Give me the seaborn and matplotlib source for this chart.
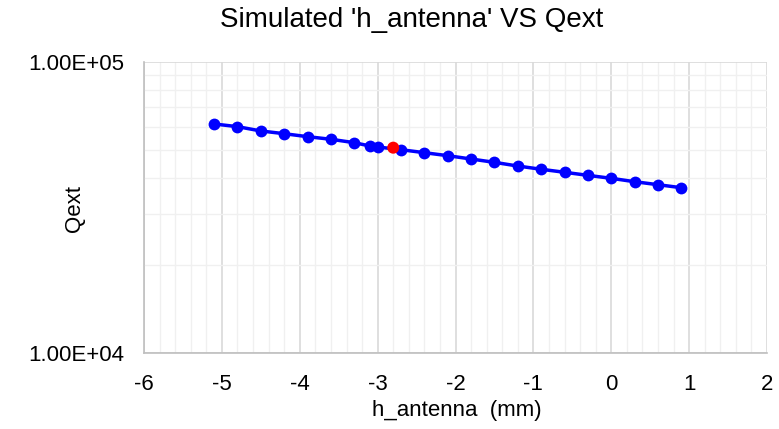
import matplotlib
matplotlib.use("Agg")
import matplotlib.pyplot as plt
import matplotlib.ticker as mticker
import seaborn as sns
import pandas as pd

h_antenna = [-5.1, -4.8, -4.5, -4.2, -3.9, -3.6, -3.3, -3.1, -3.0, -2.7, -2.4, -2.1,
             -1.8, -1.5, -1.2, -0.9, -0.6, -0.3, 0.0, 0.3, 0.6, 0.9]
qext = [61240, 59950, 57940, 56700, 55380, 54250, 52810, 51440, 51040, 49960, 48790, 47650,
        46410, 45200, 43900, 42790, 41780, 40780, 39830, 38780, 37870, 36980]
sel_x = [-2.8]
sel_q = [50760]

df = pd.DataFrame({"h": h_antenna, "q": qext})
sel = pd.DataFrame({"h": sel_x, "q": sel_q})

sns.set_style("white")
plt.rcParams['font.family'] = ['Liberation Sans', 'DejaVu Sans']
plt.rcParams['axes.unicode_minus'] = False
plt.rcParams['text.color'] = '#000000'
plt.rcParams['axes.labelcolor'] = '#000000'

fig = plt.figure(figsize=(7.79, 4.29), dpi=100)
ax = fig.add_axes([0.1849, 0.1772, 0.7997, 0.6783])

ax.set_yscale("log")
ax.set_xlim(-6, 2)
ax.set_ylim(1e4, 1e5)

ax.xaxis.set_major_locator(mticker.MultipleLocator(1))
ax.xaxis.set_minor_locator(mticker.MultipleLocator(0.2))
ax.xaxis.set_major_formatter(mticker.FuncFormatter(lambda v, p: f"{v:g}"))
ax.yaxis.set_major_locator(mticker.LogLocator(base=10, numticks=5))
ax.yaxis.set_minor_locator(mticker.LogLocator(base=10, subs=range(2, 10), numticks=20))
ax.yaxis.set_major_formatter(mticker.FuncFormatter(lambda v, p: f"{v:.2E}"))
ax.yaxis.set_minor_formatter(mticker.NullFormatter())

ax.grid(True, which="major", color="#d9d9d9", linewidth=1.2, zorder=0)
ax.grid(True, which="minor", color="#f0f0f0", linewidth=1.0, zorder=0)
ax.set_axisbelow(True)

sns.lineplot(data=df, x="h", y="q", ax=ax, color="#0000ff", linewidth=2.5,
             marker="o", markersize=8.5, markeredgewidth=0, zorder=3)
sns.scatterplot(data=sel, x="h", y="q", ax=ax, color="#ff0000", s=75,
                edgecolor="none", zorder=4)

for s in ["top", "right"]:
    ax.spines[s].set_visible(False)
for s in ["left", "bottom"]:
    ax.spines[s].set_color("#bfbfbf")
    ax.spines[s].set_linewidth(1.2)

ax.tick_params(axis="x", which="major", labelsize=16, colors="#bfbfbf",
               labelcolor="#000000", length=0, pad=15)
ax.tick_params(axis="y", which="major", labelsize=16, colors="#bfbfbf",
               labelcolor="#000000", length=0, pad=14)
ax.tick_params(axis="both", which="minor", direction="in", length=4,
               colors="#bfbfbf", width=1)

ax.set_xlabel("h_antenna  (mm)", fontsize=16)
ax.xaxis.set_label_coords(0.502, -0.196)
ax.xaxis.label.set_verticalalignment("center")
ax.set_ylabel("Qext", fontsize=16)
ax.yaxis.set_label_coords(-0.112, 0.495)
ax.yaxis.label.set_verticalalignment("center")

fig.text(0.528, 1 - 27 / 429, "Simulated 'h_antenna' VS Qext", fontsize=20,
         ha="center", va="baseline")

fig.savefig("out.png", dpi=100)
